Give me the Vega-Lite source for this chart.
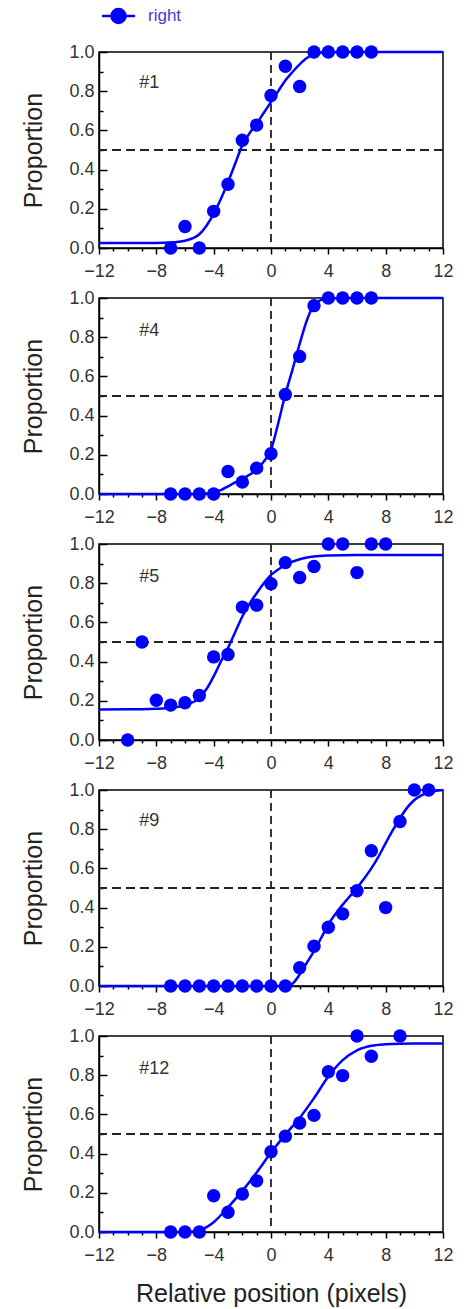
{
  "$schema": "https://vega.github.io/schema/vega-lite/v6.json",
  "autosize": {"type": "none"},
  "padding": {"left": 99, "top": 52, "right": 369, "bottom": 1257},
  "background": "white",
  "spacing": 50,
  "bounds": "flush",
  "config": {
    "view": {"stroke": "#000000", "strokeWidth": 1.5},
    "font": "Liberation Sans",
    "axis": {
      "grid": false,
      "domainColor": "#000000",
      "domainWidth": 1.5,
      "tickColor": "#000000",
      "tickWidth": 1.5,
      "labelFont": "Liberation Sans",
      "labelFontSize": 18,
      "labelColor": "#333333",
      "labelFlush": false,
      "labelOverlap": false,
      "labelBound": false,
      "titleFont": "Liberation Sans",
      "titleFontSize": 25,
      "titleFontWeight": "normal",
      "titleColor": "#222222"
    }
  },
  "datasets": {
    "obs": [
      {"panel": "#1", "pos": -7, "prop": 0},
      {"panel": "#1", "pos": -6, "prop": 0.11},
      {"panel": "#1", "pos": -5, "prop": 0},
      {"panel": "#1", "pos": -4, "prop": 0.187},
      {"panel": "#1", "pos": -3, "prop": 0.325},
      {"panel": "#1", "pos": -2, "prop": 0.55},
      {"panel": "#1", "pos": -1, "prop": 0.627},
      {"panel": "#1", "pos": 0, "prop": 0.778},
      {"panel": "#1", "pos": 1, "prop": 0.927},
      {"panel": "#1", "pos": 2, "prop": 0.824},
      {"panel": "#1", "pos": 3, "prop": 1},
      {"panel": "#1", "pos": 4, "prop": 1},
      {"panel": "#1", "pos": 5, "prop": 1},
      {"panel": "#1", "pos": 6, "prop": 1},
      {"panel": "#1", "pos": 7, "prop": 1},
      {"panel": "#4", "pos": -7, "prop": 0},
      {"panel": "#4", "pos": -6, "prop": 0},
      {"panel": "#4", "pos": -5, "prop": 0},
      {"panel": "#4", "pos": -4, "prop": 0},
      {"panel": "#4", "pos": -3, "prop": 0.115},
      {"panel": "#4", "pos": -2, "prop": 0.061},
      {"panel": "#4", "pos": -1, "prop": 0.132},
      {"panel": "#4", "pos": 0, "prop": 0.205},
      {"panel": "#4", "pos": 1, "prop": 0.508},
      {"panel": "#4", "pos": 2, "prop": 0.702},
      {"panel": "#4", "pos": 3, "prop": 0.961},
      {"panel": "#4", "pos": 4, "prop": 1},
      {"panel": "#4", "pos": 5, "prop": 1},
      {"panel": "#4", "pos": 6, "prop": 1},
      {"panel": "#4", "pos": 7, "prop": 1},
      {"panel": "#5", "pos": -10, "prop": 0},
      {"panel": "#5", "pos": -9, "prop": 0.5},
      {"panel": "#5", "pos": -8, "prop": 0.203},
      {"panel": "#5", "pos": -7, "prop": 0.178},
      {"panel": "#5", "pos": -6, "prop": 0.19},
      {"panel": "#5", "pos": -5, "prop": 0.227},
      {"panel": "#5", "pos": -4, "prop": 0.424},
      {"panel": "#5", "pos": -3, "prop": 0.436},
      {"panel": "#5", "pos": -2, "prop": 0.678},
      {"panel": "#5", "pos": -1, "prop": 0.688},
      {"panel": "#5", "pos": 0, "prop": 0.797},
      {"panel": "#5", "pos": 1, "prop": 0.905},
      {"panel": "#5", "pos": 2, "prop": 0.829},
      {"panel": "#5", "pos": 3, "prop": 0.885},
      {"panel": "#5", "pos": 4, "prop": 1},
      {"panel": "#5", "pos": 5, "prop": 1},
      {"panel": "#5", "pos": 6, "prop": 0.854},
      {"panel": "#5", "pos": 7, "prop": 1},
      {"panel": "#5", "pos": 8, "prop": 1},
      {"panel": "#9", "pos": -7, "prop": 0},
      {"panel": "#9", "pos": -6, "prop": 0},
      {"panel": "#9", "pos": -5, "prop": 0},
      {"panel": "#9", "pos": -4, "prop": 0},
      {"panel": "#9", "pos": -3, "prop": 0},
      {"panel": "#9", "pos": -2, "prop": 0},
      {"panel": "#9", "pos": -1, "prop": 0},
      {"panel": "#9", "pos": 0, "prop": 0},
      {"panel": "#9", "pos": 1, "prop": 0},
      {"panel": "#9", "pos": 2, "prop": 0.093},
      {"panel": "#9", "pos": 3, "prop": 0.203},
      {"panel": "#9", "pos": 4, "prop": 0.3},
      {"panel": "#9", "pos": 5, "prop": 0.368},
      {"panel": "#9", "pos": 6, "prop": 0.486},
      {"panel": "#9", "pos": 7, "prop": 0.69},
      {"panel": "#9", "pos": 8, "prop": 0.4},
      {"panel": "#9", "pos": 9, "prop": 0.839},
      {"panel": "#9", "pos": 10, "prop": 1},
      {"panel": "#9", "pos": 11, "prop": 1},
      {"panel": "#12", "pos": -7, "prop": 0},
      {"panel": "#12", "pos": -6, "prop": 0},
      {"panel": "#12", "pos": -5, "prop": 0},
      {"panel": "#12", "pos": -4, "prop": 0.185},
      {"panel": "#12", "pos": -3, "prop": 0.101},
      {"panel": "#12", "pos": -2, "prop": 0.194},
      {"panel": "#12", "pos": -1, "prop": 0.261},
      {"panel": "#12", "pos": 0, "prop": 0.41},
      {"panel": "#12", "pos": 1, "prop": 0.489},
      {"panel": "#12", "pos": 2, "prop": 0.556},
      {"panel": "#12", "pos": 3, "prop": 0.595},
      {"panel": "#12", "pos": 4, "prop": 0.818},
      {"panel": "#12", "pos": 5, "prop": 0.798},
      {"panel": "#12", "pos": 6, "prop": 1},
      {"panel": "#12", "pos": 7, "prop": 0.897},
      {"panel": "#12", "pos": 9, "prop": 1}
    ],
    "fit": [
      {"panel": "#1", "pos": -12, "prop": 0.026},
      {"panel": "#1", "pos": -8, "prop": 0.026},
      {"panel": "#1", "pos": -7, "prop": 0.028},
      {"panel": "#1", "pos": -6, "prop": 0.037},
      {"panel": "#1", "pos": -5, "prop": 0.07},
      {"panel": "#1", "pos": -4.5, "prop": 0.114},
      {"panel": "#1", "pos": -4, "prop": 0.174},
      {"panel": "#1", "pos": -3.5, "prop": 0.25},
      {"panel": "#1", "pos": -3, "prop": 0.336},
      {"panel": "#1", "pos": -2.5, "prop": 0.43},
      {"panel": "#1", "pos": -2, "prop": 0.525},
      {"panel": "#1", "pos": -1.5, "prop": 0.585},
      {"panel": "#1", "pos": -1, "prop": 0.635},
      {"panel": "#1", "pos": -0.5, "prop": 0.69},
      {"panel": "#1", "pos": 0, "prop": 0.745},
      {"panel": "#1", "pos": 0.5, "prop": 0.8},
      {"panel": "#1", "pos": 1, "prop": 0.855},
      {"panel": "#1", "pos": 1.5, "prop": 0.898},
      {"panel": "#1", "pos": 2, "prop": 0.937},
      {"panel": "#1", "pos": 2.5, "prop": 0.969},
      {"panel": "#1", "pos": 3, "prop": 0.988},
      {"panel": "#1", "pos": 3.5, "prop": 0.996},
      {"panel": "#1", "pos": 4, "prop": 0.999},
      {"panel": "#1", "pos": 5, "prop": 1},
      {"panel": "#1", "pos": 12, "prop": 1},
      {"panel": "#4", "pos": -12, "prop": 0},
      {"panel": "#4", "pos": -5, "prop": 0},
      {"panel": "#4", "pos": -4.5, "prop": 0.002},
      {"panel": "#4", "pos": -4, "prop": 0.008},
      {"panel": "#4", "pos": -3.5, "prop": 0.02},
      {"panel": "#4", "pos": -3, "prop": 0.039},
      {"panel": "#4", "pos": -2.5, "prop": 0.059},
      {"panel": "#4", "pos": -2, "prop": 0.078},
      {"panel": "#4", "pos": -1.5, "prop": 0.098},
      {"panel": "#4", "pos": -1, "prop": 0.124},
      {"panel": "#4", "pos": -0.5, "prop": 0.166},
      {"panel": "#4", "pos": 0, "prop": 0.225},
      {"panel": "#4", "pos": 0.5, "prop": 0.36},
      {"panel": "#4", "pos": 1, "prop": 0.508},
      {"panel": "#4", "pos": 1.5, "prop": 0.635},
      {"panel": "#4", "pos": 2, "prop": 0.766},
      {"panel": "#4", "pos": 2.5, "prop": 0.885},
      {"panel": "#4", "pos": 3, "prop": 0.965},
      {"panel": "#4", "pos": 3.5, "prop": 0.99},
      {"panel": "#4", "pos": 4, "prop": 0.998},
      {"panel": "#4", "pos": 5, "prop": 1},
      {"panel": "#4", "pos": 12, "prop": 1},
      {"panel": "#5", "pos": -12, "prop": 0.156},
      {"panel": "#5", "pos": -9, "prop": 0.157},
      {"panel": "#5", "pos": -8, "prop": 0.159},
      {"panel": "#5", "pos": -7, "prop": 0.164},
      {"panel": "#5", "pos": -6, "prop": 0.178},
      {"panel": "#5", "pos": -5, "prop": 0.215},
      {"panel": "#5", "pos": -4.5, "prop": 0.26},
      {"panel": "#5", "pos": -4, "prop": 0.325},
      {"panel": "#5", "pos": -3.5, "prop": 0.4},
      {"panel": "#5", "pos": -3, "prop": 0.47},
      {"panel": "#5", "pos": -2.5, "prop": 0.55},
      {"panel": "#5", "pos": -2, "prop": 0.63},
      {"panel": "#5", "pos": -1.5, "prop": 0.695},
      {"panel": "#5", "pos": -1, "prop": 0.749},
      {"panel": "#5", "pos": -0.5, "prop": 0.8},
      {"panel": "#5", "pos": 0, "prop": 0.842},
      {"panel": "#5", "pos": 0.5, "prop": 0.87},
      {"panel": "#5", "pos": 1, "prop": 0.893},
      {"panel": "#5", "pos": 2, "prop": 0.922},
      {"panel": "#5", "pos": 3, "prop": 0.936},
      {"panel": "#5", "pos": 4, "prop": 0.941},
      {"panel": "#5", "pos": 6, "prop": 0.944},
      {"panel": "#5", "pos": 12, "prop": 0.944},
      {"panel": "#9", "pos": -12, "prop": 0},
      {"panel": "#9", "pos": 1, "prop": 0},
      {"panel": "#9", "pos": 1.5, "prop": 0.012},
      {"panel": "#9", "pos": 2, "prop": 0.059},
      {"panel": "#9", "pos": 2.5, "prop": 0.118},
      {"panel": "#9", "pos": 3, "prop": 0.178},
      {"panel": "#9", "pos": 3.5, "prop": 0.245},
      {"panel": "#9", "pos": 4, "prop": 0.314},
      {"panel": "#9", "pos": 4.5, "prop": 0.368},
      {"panel": "#9", "pos": 5, "prop": 0.415},
      {"panel": "#9", "pos": 5.5, "prop": 0.458},
      {"panel": "#9", "pos": 6, "prop": 0.5},
      {"panel": "#9", "pos": 6.5, "prop": 0.548},
      {"panel": "#9", "pos": 7, "prop": 0.6},
      {"panel": "#9", "pos": 7.5, "prop": 0.66},
      {"panel": "#9", "pos": 8, "prop": 0.729},
      {"panel": "#9", "pos": 8.5, "prop": 0.795},
      {"panel": "#9", "pos": 9, "prop": 0.856},
      {"panel": "#9", "pos": 9.5, "prop": 0.91},
      {"panel": "#9", "pos": 10, "prop": 0.949},
      {"panel": "#9", "pos": 10.5, "prop": 0.973},
      {"panel": "#9", "pos": 11, "prop": 0.988},
      {"panel": "#9", "pos": 11.5, "prop": 0.996},
      {"panel": "#9", "pos": 12, "prop": 1},
      {"panel": "#12", "pos": -12, "prop": 0},
      {"panel": "#12", "pos": -6, "prop": 0},
      {"panel": "#12", "pos": -5.5, "prop": 0.002},
      {"panel": "#12", "pos": -5, "prop": 0.008},
      {"panel": "#12", "pos": -4.5, "prop": 0.025},
      {"panel": "#12", "pos": -4, "prop": 0.05},
      {"panel": "#12", "pos": -3, "prop": 0.126},
      {"panel": "#12", "pos": -2, "prop": 0.21},
      {"panel": "#12", "pos": -1, "prop": 0.304},
      {"panel": "#12", "pos": 0, "prop": 0.405},
      {"panel": "#12", "pos": 1, "prop": 0.497},
      {"panel": "#12", "pos": 2, "prop": 0.582},
      {"panel": "#12", "pos": 3, "prop": 0.683},
      {"panel": "#12", "pos": 4, "prop": 0.793},
      {"panel": "#12", "pos": 5, "prop": 0.877},
      {"panel": "#12", "pos": 6, "prop": 0.927},
      {"panel": "#12", "pos": 7, "prop": 0.95},
      {"panel": "#12", "pos": 8, "prop": 0.958},
      {"panel": "#12", "pos": 9, "prop": 0.961},
      {"panel": "#12", "pos": 12, "prop": 0.962}
    ]
  },
  "vconcat": [
    {
      "width": 344, "height": 196,
      "layer": [
        {"data": {"values": [{}]}, "mark": {"type": "rule", "strokeDash": [8, 5], "strokeWidth": 1.8, "color": "#222222"}, "encoding": {"x": {"datum": 0, "type": "quantitative"}}},
        {"data": {"values": [{}]}, "mark": {"type": "rule", "strokeDash": [9, 5], "strokeWidth": 1.8, "color": "#222222"}, "encoding": {"y": {"datum": 0.5, "type": "quantitative"}}},
        {
          "data": {"name": "fit"},
          "transform": [{"filter": "datum.panel === '#1'"}],
          "mark": {"type": "line", "interpolate": "monotone", "color": "#0000ff", "strokeWidth": 2.5},
          "encoding": {
            "x": {"field": "pos", "type": "quantitative", "scale": {"domain": [-12, 12], "nice": false, "zero": false},
              "axis": {"values": [-12,-11,-10,-9,-8,-7,-6,-5,-4,-3,-2,-1,0,1,2,3,4,5,6,7,8,9,10,11,12], "tickCount": 50, "format": "d", "labelExpr": "datum.value % 4 === 0 ? datum.label : ''", "labelOverlap": false, "tickSize": {"condition": {"test": "datum.value % 4 === 0", "value": 6}, "value": 3}, "labelPadding": 8, "title": null}},
            "y": {"field": "prop", "type": "quantitative", "scale": {"domain": [0, 1], "nice": false, "zero": false},
              "axis": {"values": [0,0.1,0.2,0.3,0.4,0.5,0.6,0.7,0.8,0.9,1], "tickCount": 50, "format": ".1f", "labelExpr": "round(datum.value * 10) % 2 === 0 ? datum.label : ''", "labelOverlap": false, "tickSize": {"condition": {"test": "round(datum.value * 10) % 2 === 0", "value": -8}, "value": -4}, "labelPadding": 13, "title": "Proportion", "titleX": -66, "titleY": 98, "titleAngle": 270, "titleBaseline": "middle", "titleAlign": "center"}}
          }
        },
        {
          "data": {"name": "obs"},
          "transform": [{"filter": "datum.panel === '#1'"}],
          "mark": {"type": "circle", "size": 180, "opacity": 1},
          "encoding": {
            "x": {"field": "pos", "type": "quantitative"},
            "y": {"field": "prop", "type": "quantitative"},
            "color": {"datum": "right", "scale": {"domain": ["right"], "range": ["#0000ff"]},
              "legend": {"orient": "none", "legendX": 11, "legendY": -44.5, "title": null, "padding": 0,
                "symbolType": "M-2.36,0H2.36M-1,0A1,1 0 1,0 1,0A1,1 0 1,0 -1,0Z", "symbolSize": 196,
                "symbolFillColor": "#0000ff", "symbolStrokeColor": "#0000ff", "symbolStrokeWidth": 2.5,
                "labelFont": "Liberation Sans", "labelFontSize": 17, "labelColor": "#4040e0", "labelOffset": 21}}
          }
        },
        {"data": {"values": [{}]}, "mark": {"type": "text", "align": "left", "baseline": "middle", "font": "Liberation Sans", "fontSize": 18, "color": "#333333", "text": "#1"}, "encoding": {"x": {"datum": -9.2, "type": "quantitative"}, "y": {"datum": 0.84, "type": "quantitative"}}}
      ]
    },
    {
      "width": 344, "height": 196,
      "layer": [
        {"data": {"values": [{}]}, "mark": {"type": "rule", "strokeDash": [8, 5], "strokeWidth": 1.8, "color": "#222222"}, "encoding": {"x": {"datum": 0, "type": "quantitative"}}},
        {"data": {"values": [{}]}, "mark": {"type": "rule", "strokeDash": [9, 5], "strokeWidth": 1.8, "color": "#222222"}, "encoding": {"y": {"datum": 0.5, "type": "quantitative"}}},
        {
          "data": {"name": "fit"},
          "transform": [{"filter": "datum.panel === '#4'"}],
          "mark": {"type": "line", "interpolate": "monotone", "color": "#0000ff", "strokeWidth": 2.5},
          "encoding": {
            "x": {"field": "pos", "type": "quantitative", "scale": {"domain": [-12, 12], "nice": false, "zero": false},
              "axis": {"values": [-12,-11,-10,-9,-8,-7,-6,-5,-4,-3,-2,-1,0,1,2,3,4,5,6,7,8,9,10,11,12], "tickCount": 50, "format": "d", "labelExpr": "datum.value % 4 === 0 ? datum.label : ''", "labelOverlap": false, "tickSize": {"condition": {"test": "datum.value % 4 === 0", "value": 6}, "value": 3}, "labelPadding": 8, "title": null}},
            "y": {"field": "prop", "type": "quantitative", "scale": {"domain": [0, 1], "nice": false, "zero": false},
              "axis": {"values": [0,0.1,0.2,0.3,0.4,0.5,0.6,0.7,0.8,0.9,1], "tickCount": 50, "format": ".1f", "labelExpr": "round(datum.value * 10) % 2 === 0 ? datum.label : ''", "labelOverlap": false, "tickSize": {"condition": {"test": "round(datum.value * 10) % 2 === 0", "value": -8}, "value": -4}, "labelPadding": 13, "title": "Proportion", "titleX": -66, "titleY": 98, "titleAngle": 270, "titleBaseline": "middle", "titleAlign": "center"}}
          }
        },
        {
          "data": {"name": "obs"},
          "transform": [{"filter": "datum.panel === '#4'"}],
          "mark": {"type": "circle", "size": 180, "opacity": 1, "color": "#0000ff"},
          "encoding": {
            "x": {"field": "pos", "type": "quantitative"},
            "y": {"field": "prop", "type": "quantitative"}
          }
        },
        {"data": {"values": [{}]}, "mark": {"type": "text", "align": "left", "baseline": "middle", "font": "Liberation Sans", "fontSize": 18, "color": "#333333", "text": "#4"}, "encoding": {"x": {"datum": -9.2, "type": "quantitative"}, "y": {"datum": 0.83, "type": "quantitative"}}}
      ]
    },
    {
      "width": 344, "height": 196,
      "layer": [
        {"data": {"values": [{}]}, "mark": {"type": "rule", "strokeDash": [8, 5], "strokeWidth": 1.8, "color": "#222222"}, "encoding": {"x": {"datum": 0, "type": "quantitative"}}},
        {"data": {"values": [{}]}, "mark": {"type": "rule", "strokeDash": [9, 5], "strokeWidth": 1.8, "color": "#222222"}, "encoding": {"y": {"datum": 0.5, "type": "quantitative"}}},
        {
          "data": {"name": "fit"},
          "transform": [{"filter": "datum.panel === '#5'"}],
          "mark": {"type": "line", "interpolate": "monotone", "color": "#0000ff", "strokeWidth": 2.5},
          "encoding": {
            "x": {"field": "pos", "type": "quantitative", "scale": {"domain": [-12, 12], "nice": false, "zero": false},
              "axis": {"values": [-12,-11,-10,-9,-8,-7,-6,-5,-4,-3,-2,-1,0,1,2,3,4,5,6,7,8,9,10,11,12], "tickCount": 50, "format": "d", "labelExpr": "datum.value % 4 === 0 ? datum.label : ''", "labelOverlap": false, "tickSize": {"condition": {"test": "datum.value % 4 === 0", "value": 6}, "value": 3}, "labelPadding": 8, "title": null}},
            "y": {"field": "prop", "type": "quantitative", "scale": {"domain": [0, 1], "nice": false, "zero": false},
              "axis": {"values": [0,0.1,0.2,0.3,0.4,0.5,0.6,0.7,0.8,0.9,1], "tickCount": 50, "format": ".1f", "labelExpr": "round(datum.value * 10) % 2 === 0 ? datum.label : ''", "labelOverlap": false, "tickSize": {"condition": {"test": "round(datum.value * 10) % 2 === 0", "value": -8}, "value": -4}, "labelPadding": 13, "title": "Proportion", "titleX": -66, "titleY": 98, "titleAngle": 270, "titleBaseline": "middle", "titleAlign": "center"}}
          }
        },
        {
          "data": {"name": "obs"},
          "transform": [{"filter": "datum.panel === '#5'"}],
          "mark": {"type": "circle", "size": 180, "opacity": 1, "color": "#0000ff"},
          "encoding": {
            "x": {"field": "pos", "type": "quantitative"},
            "y": {"field": "prop", "type": "quantitative"}
          }
        },
        {"data": {"values": [{}]}, "mark": {"type": "text", "align": "left", "baseline": "middle", "font": "Liberation Sans", "fontSize": 18, "color": "#333333", "text": "#5"}, "encoding": {"x": {"datum": -9.2, "type": "quantitative"}, "y": {"datum": 0.83, "type": "quantitative"}}}
      ]
    },
    {
      "width": 344, "height": 196,
      "layer": [
        {"data": {"values": [{}]}, "mark": {"type": "rule", "strokeDash": [8, 5], "strokeWidth": 1.8, "color": "#222222"}, "encoding": {"x": {"datum": 0, "type": "quantitative"}}},
        {"data": {"values": [{}]}, "mark": {"type": "rule", "strokeDash": [9, 5], "strokeWidth": 1.8, "color": "#222222"}, "encoding": {"y": {"datum": 0.5, "type": "quantitative"}}},
        {
          "data": {"name": "fit"},
          "transform": [{"filter": "datum.panel === '#9'"}],
          "mark": {"type": "line", "interpolate": "monotone", "color": "#0000ff", "strokeWidth": 2.5},
          "encoding": {
            "x": {"field": "pos", "type": "quantitative", "scale": {"domain": [-12, 12], "nice": false, "zero": false},
              "axis": {"values": [-12,-11,-10,-9,-8,-7,-6,-5,-4,-3,-2,-1,0,1,2,3,4,5,6,7,8,9,10,11,12], "tickCount": 50, "format": "d", "labelExpr": "datum.value % 4 === 0 ? datum.label : ''", "labelOverlap": false, "tickSize": {"condition": {"test": "datum.value % 4 === 0", "value": 6}, "value": 3}, "labelPadding": 8, "title": null}},
            "y": {"field": "prop", "type": "quantitative", "scale": {"domain": [0, 1], "nice": false, "zero": false},
              "axis": {"values": [0,0.1,0.2,0.3,0.4,0.5,0.6,0.7,0.8,0.9,1], "tickCount": 50, "format": ".1f", "labelExpr": "round(datum.value * 10) % 2 === 0 ? datum.label : ''", "labelOverlap": false, "tickSize": {"condition": {"test": "round(datum.value * 10) % 2 === 0", "value": -8}, "value": -4}, "labelPadding": 13, "title": "Proportion", "titleX": -66, "titleY": 98, "titleAngle": 270, "titleBaseline": "middle", "titleAlign": "center"}}
          }
        },
        {
          "data": {"name": "obs"},
          "transform": [{"filter": "datum.panel === '#9'"}],
          "mark": {"type": "circle", "size": 180, "opacity": 1, "color": "#0000ff"},
          "encoding": {
            "x": {"field": "pos", "type": "quantitative"},
            "y": {"field": "prop", "type": "quantitative"}
          }
        },
        {"data": {"values": [{}]}, "mark": {"type": "text", "align": "left", "baseline": "middle", "font": "Liberation Sans", "fontSize": 18, "color": "#333333", "text": "#9"}, "encoding": {"x": {"datum": -9.2, "type": "quantitative"}, "y": {"datum": 0.84, "type": "quantitative"}}}
      ]
    },
    {
      "width": 344, "height": 196,
      "layer": [
        {"data": {"values": [{}]}, "mark": {"type": "rule", "strokeDash": [8, 5], "strokeWidth": 1.8, "color": "#222222"}, "encoding": {"x": {"datum": 0, "type": "quantitative"}}},
        {"data": {"values": [{}]}, "mark": {"type": "rule", "strokeDash": [9, 5], "strokeWidth": 1.8, "color": "#222222"}, "encoding": {"y": {"datum": 0.5, "type": "quantitative"}}},
        {
          "data": {"name": "fit"},
          "transform": [{"filter": "datum.panel === '#12'"}],
          "mark": {"type": "line", "interpolate": "monotone", "color": "#0000ff", "strokeWidth": 2.5},
          "encoding": {
            "x": {"field": "pos", "type": "quantitative", "scale": {"domain": [-12, 12], "nice": false, "zero": false},
              "axis": {"values": [-12,-11,-10,-9,-8,-7,-6,-5,-4,-3,-2,-1,0,1,2,3,4,5,6,7,8,9,10,11,12], "tickCount": 50, "format": "d", "labelExpr": "datum.value % 4 === 0 ? datum.label : ''", "labelOverlap": false, "tickSize": {"condition": {"test": "datum.value % 4 === 0", "value": 6}, "value": 3}, "labelPadding": 8, "title": "Relative position (pixels)", "titleY": 61, "titleBaseline": "middle"}},
            "y": {"field": "prop", "type": "quantitative", "scale": {"domain": [0, 1], "nice": false, "zero": false},
              "axis": {"values": [0,0.1,0.2,0.3,0.4,0.5,0.6,0.7,0.8,0.9,1], "tickCount": 50, "format": ".1f", "labelExpr": "round(datum.value * 10) % 2 === 0 ? datum.label : ''", "labelOverlap": false, "tickSize": {"condition": {"test": "round(datum.value * 10) % 2 === 0", "value": -8}, "value": -4}, "labelPadding": 13, "title": "Proportion", "titleX": -66, "titleY": 98, "titleAngle": 270, "titleBaseline": "middle", "titleAlign": "center"}}
          }
        },
        {
          "data": {"name": "obs"},
          "transform": [{"filter": "datum.panel === '#12'"}],
          "mark": {"type": "circle", "size": 180, "opacity": 1, "color": "#0000ff"},
          "encoding": {
            "x": {"field": "pos", "type": "quantitative"},
            "y": {"field": "prop", "type": "quantitative"}
          }
        },
        {"data": {"values": [{}]}, "mark": {"type": "text", "align": "left", "baseline": "middle", "font": "Liberation Sans", "fontSize": 18, "color": "#333333", "text": "#12"}, "encoding": {"x": {"datum": -9.2, "type": "quantitative"}, "y": {"datum": 0.83, "type": "quantitative"}}}
      ]
    }
  ]
}
